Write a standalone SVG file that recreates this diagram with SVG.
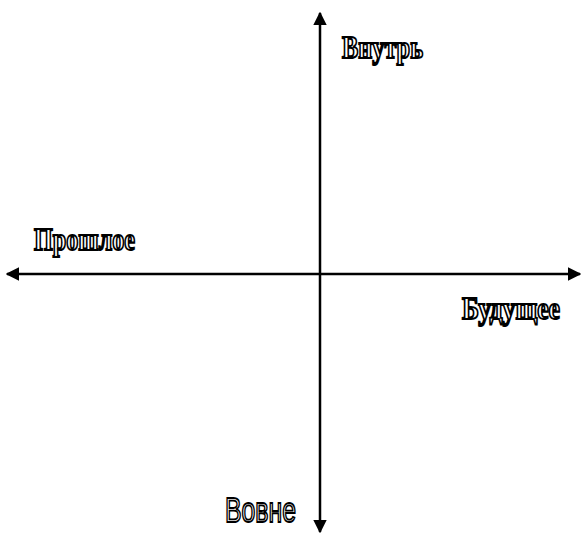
<svg xmlns="http://www.w3.org/2000/svg" width="582" height="535" viewBox="0 0 582 535">
<style>
.ax{stroke:#000;stroke-width:2.5;fill:none}
.lbl{font-family:"Liberation Serif","Times New Roman",serif;font-weight:bold;font-size:32px;fill:#fff;stroke:#000;stroke-width:2}
.lbs{font-family:"Liberation Sans",Arial,sans-serif;font-size:35px;fill:#fff;stroke:#000;stroke-width:1.8}
</style>
<defs>
<marker id="ah" viewBox="0 0 10 10" refX="9" refY="5" markerWidth="5.5" markerHeight="5.5" markerUnits="strokeWidth" orient="auto">
<path d="M0,0 L10,5 L0,10 Z" fill="#000"/>
</marker>
</defs>
<rect width="582" height="535" fill="#fff"/>
<g id="connectors">
<line class="ax" x1="320" y1="274" x2="320" y2="13" marker-end="url(#ah)"/>
<line class="ax" x1="320" y1="274" x2="320" y2="532" marker-end="url(#ah)"/>
<line class="ax" x1="320" y1="274" x2="7" y2="274" marker-end="url(#ah)"/>
<line class="ax" x1="320" y1="274" x2="580" y2="274" marker-end="url(#ah)"/>
</g>
<g id="vnutr" transform="translate(342,58) scale(0.75,1)"><text class="lbl" x="0" y="0" textLength="108" lengthAdjust="spacingAndGlyphs">Внутрь</text></g>
<g id="proshloe" transform="translate(34,250) scale(0.75,1)"><text class="lbl" x="0" y="0" textLength="134.7" lengthAdjust="spacingAndGlyphs">Прошлое</text></g>
<g id="budushchee" transform="translate(462,319) scale(0.75,1)"><text class="lbl" x="0" y="0" textLength="130.7" lengthAdjust="spacingAndGlyphs">Будущее</text></g>
<g id="vovne" transform="translate(225,522) scale(0.75,1)"><text class="lbs" x="0" y="0" textLength="94.7" lengthAdjust="spacingAndGlyphs">Вовне</text></g>
</svg>
